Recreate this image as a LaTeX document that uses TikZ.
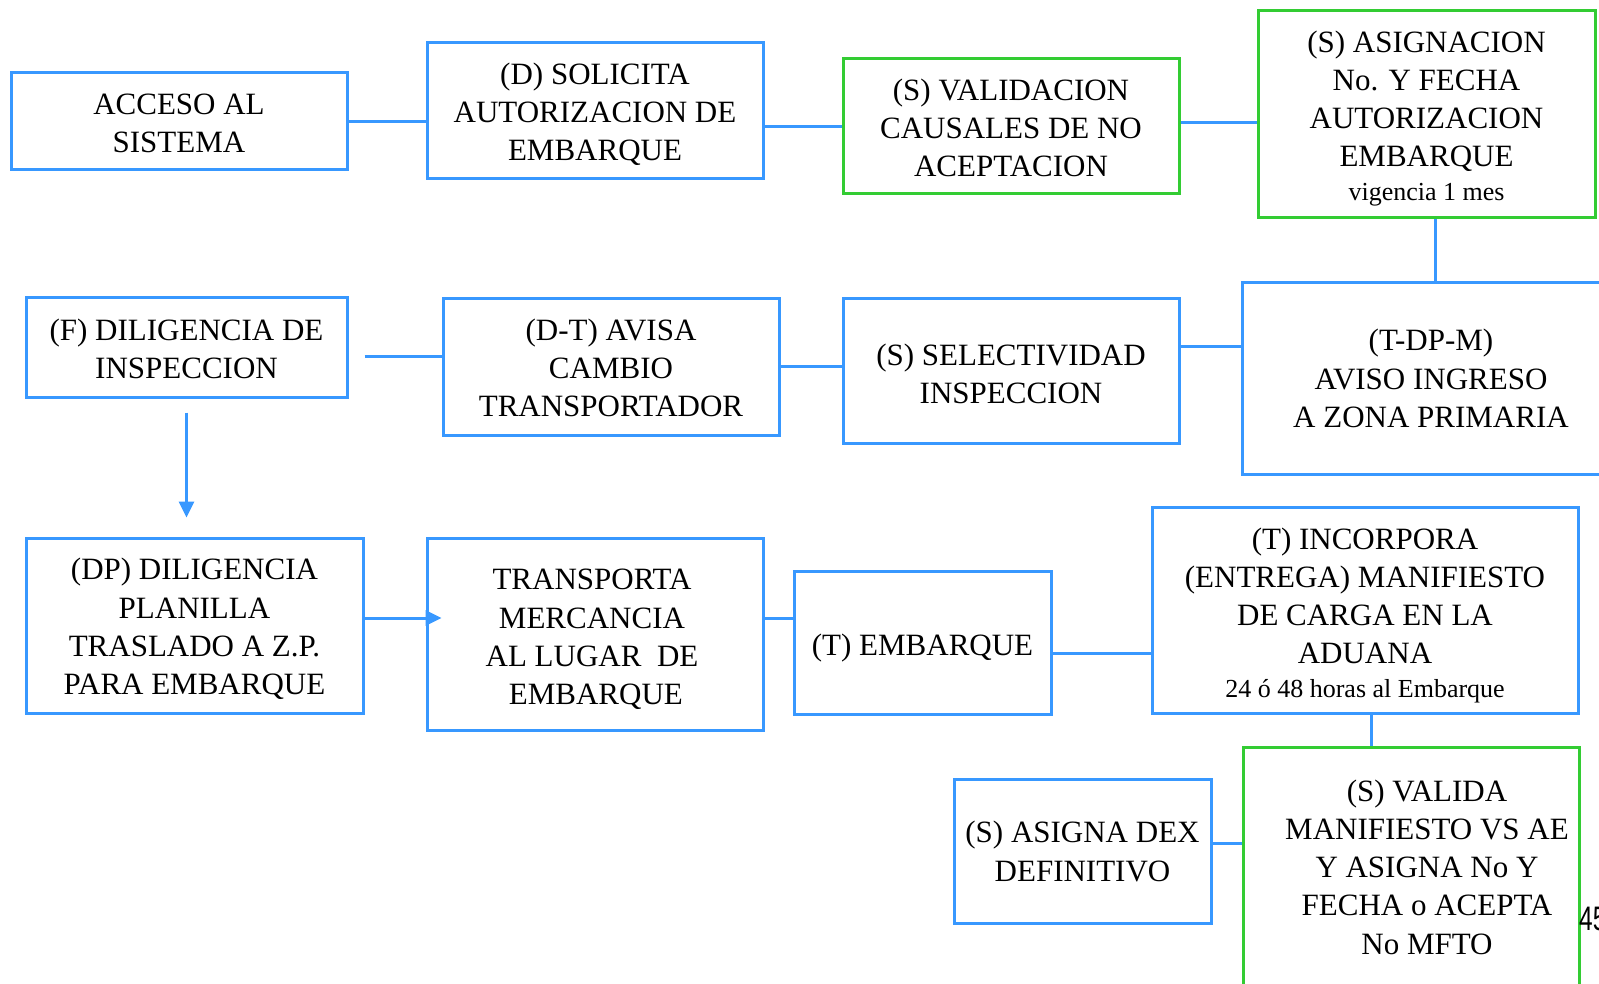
\documentclass[tikz,border=0pt]{standalone}
\usepackage{fontspec}
\setmainfont{Liberation Serif}
\newfontfamily\arialf{Liberation Sans}
\usetikzlibrary{arrows.meta}
\definecolor{lblue}{RGB}{56,152,255}
\definecolor{lgreen}{RGB}{51,204,51}
\newcommand{\smtxt}[1]{{\fontsize{26}{32}\selectfont #1}}
\begin{document}
\begin{tikzpicture}[x=1pt,y=-1pt,
  box/.style={draw=lblue, line width=3pt, rectangle, inner sep=0pt},
  gbox/.style={box, draw=lgreen},
  txt/.style={inner sep=0pt, align=center, font=\fontsize{31}{38.2}\selectfont},
  conn/.style={draw=lblue, line width=3pt},
  arr/.style={conn, -{Triangle[length=16pt,width=15pt]}}]
\useasboundingbox (0,0) rectangle (1599,984);
\clip (0,0) rectangle (1599,984);
\fill[white] (0,0) rectangle (1599,984);

% row 1
\node[box, minimum width=336pt, minimum height=97pt,
  label={[txt, yshift=-2pt]center:{ACCESO AL\\SISTEMA}}] (acceso) at (179,121.5) {};
\node[box, minimum width=336pt, minimum height=136pt,
  label={[txt, yshift=-3pt]center:{(D) SOLICITA\\AUTORIZACION DE\\EMBARQUE}}] (solicita) at (595,111) {};
\node[gbox, minimum width=336pt, minimum height=135pt,
  label={[txt, yshift=-1.5pt]center:{(S) VALIDACION\\CAUSALES DE NO\\ACEPTACION}}] (validacion) at (1011,126.5) {};
\node[gbox, minimum width=337pt, minimum height=207pt,
  label={[txt, yshift=-4pt]center:{(S) ASIGNACION\\No. Y FECHA\\AUTORIZACION\\EMBARQUE\\[-4pt]\smtxt{vigencia 1 mes}}}] (asig) at (1426.5,114.5) {};

% row 2
\node[box, minimum width=378pt, minimum height=191pt,
  label={[txt]center:{(T-DP-M)\\AVISO INGRESO\\A ZONA PRIMARIA}}] (aviso) at (1431,378.5) {};
\node[box, minimum width=336pt, minimum height=144pt,
  label={[txt, yshift=-2.5pt]center:{(S) SELECTIVIDAD\\INSPECCION}}] (sel) at (1011,371) {};
\node[box, minimum width=336pt, minimum height=136pt,
  label={[txt, yshift=-1pt]center:{(D-T) AVISA\\CAMBIO\\TRANSPORTADOR}}] (dt) at (611,367) {};
\node[box, minimum width=321pt, minimum height=99pt,
  label={[txt, yshift=-1pt]center:{(F) DILIGENCIA DE\\INSPECCION}}] (f) at (186.5,347.5) {};

% row 3
\node[box, minimum width=337pt, minimum height=175pt,
  label={[txt, yshift=-3.5pt]center:{(DP) DILIGENCIA\\PLANILLA\\TRASLADO A Z.P.\\PARA EMBARQUE}}] (dp) at (194.5,625.5) {};
\node[box, minimum width=336pt, minimum height=192pt,
  label={[txt, yshift=-5.5pt, xshift=-3pt]center:{TRANSPORTA\\MERCANCIA\\AL LUGAR\ \ DE\\\ EMBARQUE}}] (trans) at (595,634) {};
\node[box, minimum width=257pt, minimum height=143pt,
  label={[txt, yshift=-6pt]center:{(T) EMBARQUE}}] (emb) at (922.5,642.5) {};
\node[box, minimum width=426pt, minimum height=206pt,
  label={[txt, yshift=-5.5pt]center:{(T) INCORPORA\\(ENTREGA) MANIFIESTO\\DE CARGA EN LA\\ADUANA\\[-4pt]\smtxt{24 ó 48 horas al Embarque}}}] (inc) at (1365,610) {};

% row 4
\node[box, minimum width=257pt, minimum height=144pt,
  label={[txt, yshift=-0.5pt]center:{(S) ASIGNA DEX\\DEFINITIVO}}] (dex) at (1082.5,851) {};
\node[gbox, minimum width=336pt, minimum height=240pt,
  label={[txt, xshift=16pt]center:{(S) VALIDA\\MANIFIESTO VS AE\\Y ASIGNA No Y\\FECHA o ACEPTA\\No MFTO}}] (valida) at (1411,867) {};
\node[anchor=west, inner sep=0pt, font=\arialf\fontsize{34}{40}\selectfont] (pg) at (1579,919) {\scalebox{0.72}[1]{45}};

% connectors
\draw[conn] (acceso.east) -- (acceso.east -| solicita.west);
\draw[conn] (validacion.west -| solicita.east) -- (validacion.west);
\path ([yshift=4pt]validacion.east) coordinate (v1);
\draw[conn] (v1) -- (v1 -| asig.west);
\path ([xshift=8.5pt]asig.south) coordinate (a1);
\draw[conn] (a1) -- (a1 |- aviso.north);
\path ([yshift=24pt]sel.east) coordinate (s1);
\draw[conn] (s1) -- (s1 -| aviso.west);
\draw[conn] (dt.east) -- (dt.east -| sel.west);
\path ([yshift=10pt]dt.west) coordinate (d1);
\draw[conn, shorten <=16pt] (d1 -| f.east) -- (d1);
\draw[arr, shorten <=14pt, shorten >=19pt] (f.south) -- (f.south |- dp.north);
\path ([yshift=7.5pt]dp.east) coordinate (p1);
\draw[arr, shorten >=-16pt] (p1) -- (p1 -| trans.west);
\path ([yshift=16pt]trans.east) coordinate (t1);
\draw[conn] (t1) -- (t1 -| emb.west);
\path ([yshift=-10.5pt]emb.east) coordinate (e1);
\draw[conn] (e1) -- (e1 -| inc.west);
\path ([xshift=6pt]inc.south) coordinate (i1);
\draw[conn] (i1) -- (i1 |- valida.north);
\path ([yshift=8pt]dex.east) coordinate (x1);
\draw[conn] (x1) -- (x1 -| valida.west);
\end{tikzpicture}
\end{document}
